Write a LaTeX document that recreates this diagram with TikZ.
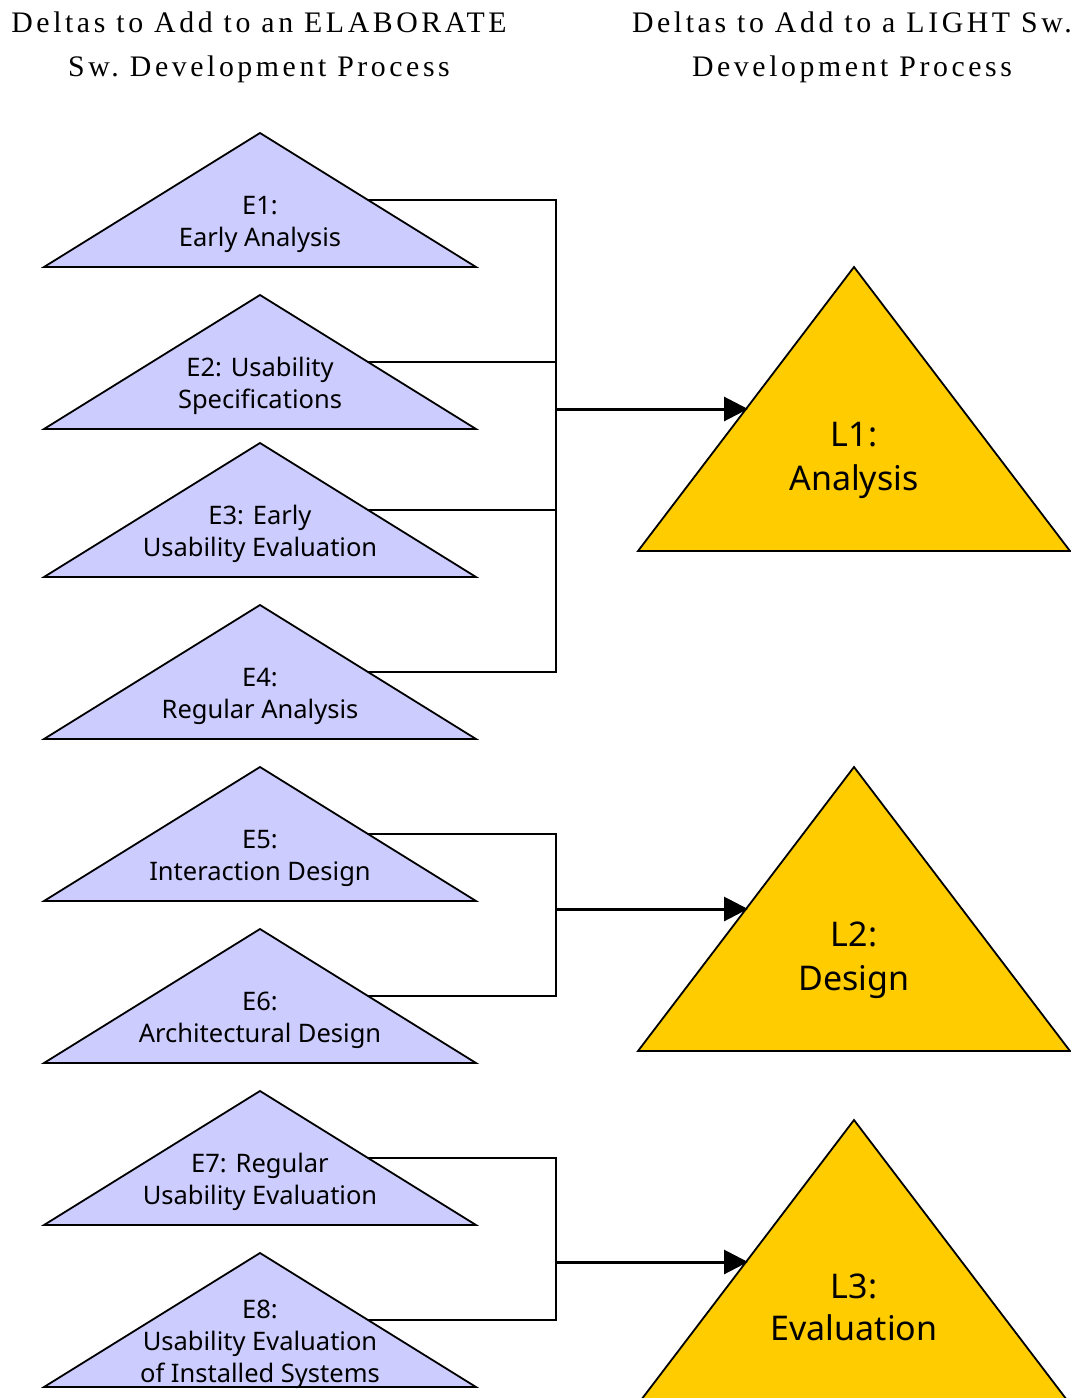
\documentclass[tikz,border=0pt]{standalone}
\usepackage{fontspec}
\setmainfont{Noto Sans}
\newfontfamily\titlefont[LetterSpace=12]{Liberation Serif}
\usetikzlibrary{arrows.meta}
\definecolor{efill}{HTML}{CCCCFF}
\definecolor{lfill}{HTML}{FFCC00}
\tikzset{
  etri/.style={draw=black, fill=efill, line width=1.8pt, line join=miter},
  ltri/.style={draw=black, fill=lfill, line width=1.8pt, line join=miter},
  elabel/.style={align=center, font=\fontsize{25.5}{32}\selectfont, inner sep=0pt},
  llabel/.style={align=center, font=\fontsize{34}{44}\selectfont, inner sep=0pt},
  title/.style={align=center, font=\titlefont\fontsize{29.8}{44}\selectfont\frenchspacing, inner sep=0pt},
  bus/.style={line width=1.8pt},
  feed/.style={line width=3pt, -{Triangle[length=24pt,width=24pt]}, shorten >=-2pt},
}
% small triangle: apex at (260,#2), base from x=44 to x=476, height 134
\newcommand{\smalltri}[3]{%
  \path[etri] (260,#2) -- (476,#2+134) -- (44,#2+134) -- cycle;
  \node[elabel] (#1) at (260,#2+91) {#3};
  \coordinate (#1r) at (368,#2+67);
}
% large triangle: apex at (854,#2), base from x=638 to x=1070, height 284;
% #4 is the height of the label centre below the apex
\newcommand{\bigtri}[4]{%
  \path[ltri] (854,#2) -- (1070,#2+284) -- (638,#2+284) -- cycle;
  \node[llabel] (#1) at (854,#2+#4) {#3};
  \coordinate (#1l) at (746,#2+142);
}
\begin{document}
\begin{tikzpicture}[x=1pt,y=-1pt]
\useasboundingbox (0,0) rectangle (1071,1398);

% column headings
\node[title] (hE) at (259,47) {Deltas to Add to an ELABORATE\\Sw. Development Process};
\node[title] (hL) at (852,47) {Deltas to Add to a LIGHT Sw.\\Development Process};

% elaborate-process deltas
\smalltri{e1}{133}{E1:\\Early Analysis}
\smalltri{e2}{295}{E2: Usability\\Specifications}
\smalltri{e3}{443}{E3: Early\\Usability Evaluation}
\smalltri{e4}{605}{E4:\\Regular Analysis}
\smalltri{e5}{767}{E5:\\Interaction Design}
\smalltri{e6}{929}{E6:\\Architectural Design}
\smalltri{e7}{1091}{E7: Regular\\Usability Evaluation}
\smalltri{e8}{1253}{E8:\\Usability Evaluation\\of Installed Systems}

% light-process deltas
\bigtri{l1}{267}{L1:\\Analysis}{193}
\bigtri{l2}{767}{L2:\\Design}{193}
\bigtri{l3}{1120}{L3:\\[-2pt]Evaluation}{187}

% junction points on the collecting bus
\coordinate (j1) at (556,409);
\coordinate (j2) at (556,909);
\coordinate (j3) at (556,1262);

% group 1: E1-E4 -> L1
\draw[bus] (e1r) -| (j1);
\draw[bus] (e4r) -| (j1);
\draw[bus] (e2r) -- (e2r -| j1);
\draw[bus] (e3r) -- (e3r -| j1);
\draw[feed] (j1) -- (l1l);

% group 2: E5-E6 -> L2
\draw[bus] (e5r) -| (j2);
\draw[bus] (e6r) -| (j2);
\draw[feed] (j2) -- (l2l);

% group 3: E7-E8 -> L3
\draw[bus] (e7r) -| (j3);
\draw[bus] (e8r) -| (j3);
\draw[feed] (j3) -- (l3l);
\end{tikzpicture}
\end{document}
